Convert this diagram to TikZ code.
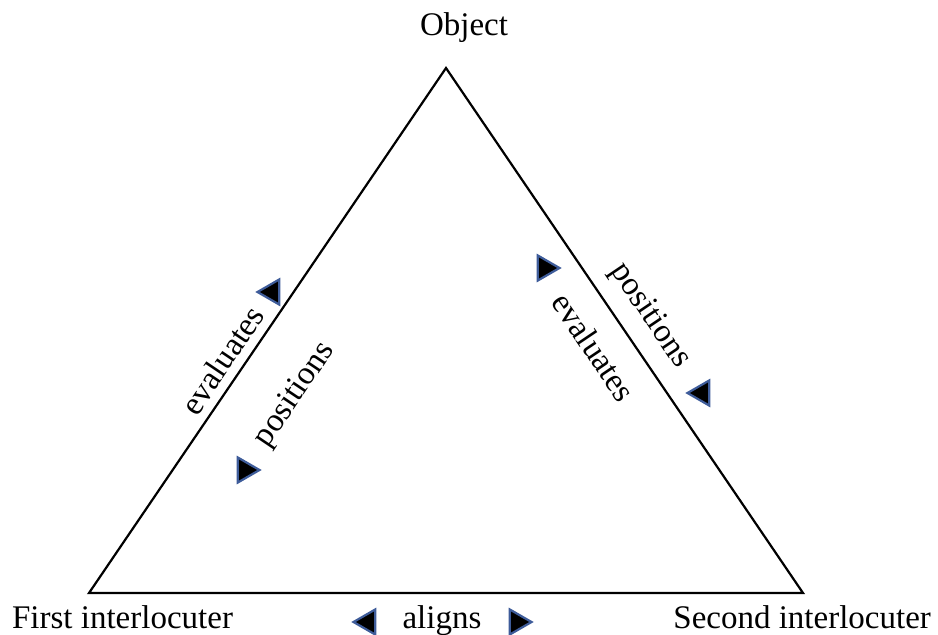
\documentclass[tikz,border=0pt]{standalone}
\usepackage{fontspec}
\setmainfont{Liberation Serif}
\usetikzlibrary{shapes.geometric}
\definecolor{tblue}{HTML}{3E5C9A}
\tikzset{
  every picture/.style={line width=2.2pt},
  lbl/.style={font=\fontsize{33}{40}\selectfont, inner sep=0pt},
  pointer/.style={regular polygon, regular polygon sides=3, fill=black, draw=tblue, line width=2.2pt, inner sep=0pt, minimum size=29pt},
  pointer left/.style={pointer, rotate=90},
  pointer right/.style={pointer, rotate=-90},
}
\begin{document}
\begin{tikzpicture}[x=1pt, y=-1pt]
  \useasboundingbox (0,0) rectangle (938,635);
  % corners of the triangle
  \coordinate (obj) at (446,68);
  \coordinate (first) at (89,593);
  \coordinate (second) at (803,593);
  \draw[line join=miter] (obj) -- (second) -- (first) -- cycle;
  % corner labels
  \node[lbl, anchor=base] (objlbl) at (464,35) {Object};
  \node[lbl, anchor=base west] (firstlbl) at (11,628) {First interlocuter};
  \node[lbl, anchor=base east] (secondlbl) at (932,628) {Second interlocuter};
  \node[lbl, anchor=base] (aligns) at (442,628) {aligns};
  % labels along the sides
  \node[lbl, rotate=56] (evalleft) at (222,360) {evaluates};
  \node[lbl, rotate=56] (posleft) at (295,395) {positions};
  \node[lbl, rotate=-56] (posright) at (650,316) {positions};
  \node[lbl, rotate=-56] (evalright) at (594,347) {evaluates};
  % pointers
  \foreach \nm/\px/\py/\dir in {ptevl/272/292/left, ptposl/245/470/right, ptevr/545/268/right,
                                ptposr/702/393/left, ptall/368/622/left, ptalr/517/622/right}
    \node[pointer \dir] (\nm) at (\px,\py) {};
\end{tikzpicture}
\end{document}
